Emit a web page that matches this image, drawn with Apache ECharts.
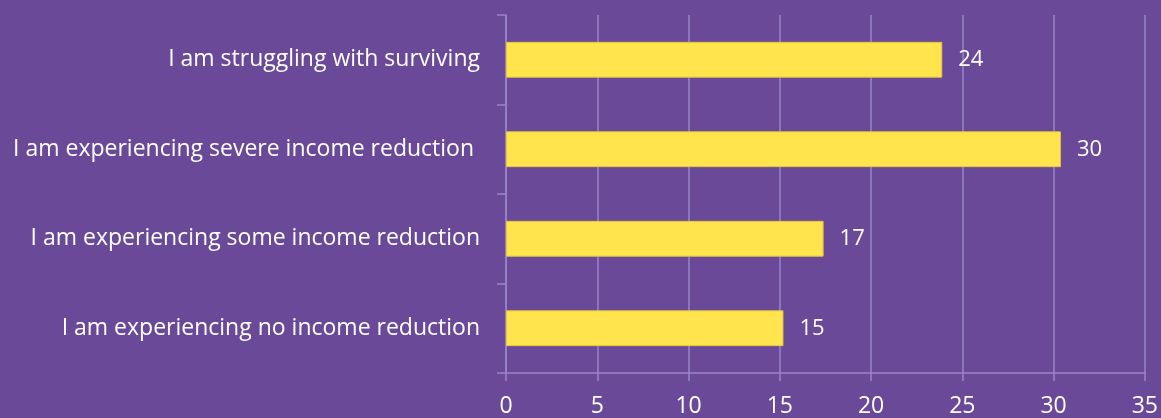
<!DOCTYPE html>
<html>
<head>
<meta charset="utf-8">
<script src="https://cdn.jsdelivr.net/npm/echarts@6/dist/echarts.min.js"></script>
<style>
  html, body { margin: 0; padding: 0; background: #6a4a98; }
  #chart_box { width: 1161px; height: 418px; }
</style>
</head>
<body>
<div id="chart_box"></div>
<script>
// categories bottom -> top (as category axis draws them)
let categories = [
    'I am experiencing no income reduction',
    'I am experiencing some income reduction',
    'I am experiencing severe income reduction ',
    'I am struggling with surviving'
];
let values = [15.2, 17.4, 30.4, 23.9];
let xTicks = [0, 5, 10, 15, 20, 25, 30, 35];

let lineColor = '#9a84c8';
let font = 'Open Sans';

let myChart = echarts.init(document.getElementById('chart_box'));

let myOption = {
    backgroundColor: '#6a4a98',
    animation: false,
    grid: {
        left: 506,
        right: 16,
        top: 15,
        bottom: 44
    },
    xAxis: {
        type: 'value',
        min: xTicks[0],
        max: xTicks[xTicks.length - 1],
        interval: 5,
        axisLine: { show: true, lineStyle: { color: lineColor, width: 1.5 } },
        axisTick: { show: true, length: 8, lineStyle: { color: lineColor, width: 1.5 } },
        splitLine: { show: true, lineStyle: { color: lineColor, width: 1.5 } },
        axisLabel: {
            color: '#ffffff',
            fontFamily: font,
            fontSize: 23,
            margin: 22
        }
    },
    yAxis: {
        type: 'category',
        data: categories,
        axisLine: { show: true, lineStyle: { color: lineColor, width: 1.5 } },
        axisTick: { show: true, length: 9, lineStyle: { color: lineColor, width: 1.5 } },
        axisLabel: {
            color: '#ffffff',
            fontFamily: font,
            fontSize: 23,
            margin: 26
        }
    },
    series: [{
        type: 'bar',
        data: values,
        barCategoryGap: '60%',
        itemStyle: {
            color: '#ffe44e',
            borderColor: '#e6c83a',
            borderWidth: 1
        },
        label: {
            show: true,
            position: 'right',
            distance: 16,
            color: '#ffffff',
            fontFamily: font,
            fontSize: 22,
            formatter: function (p) {
                return Math.round(p.value);
            }
        }
    }]
};

myChart.setOption(myOption);
</script>
</body>
</html>
